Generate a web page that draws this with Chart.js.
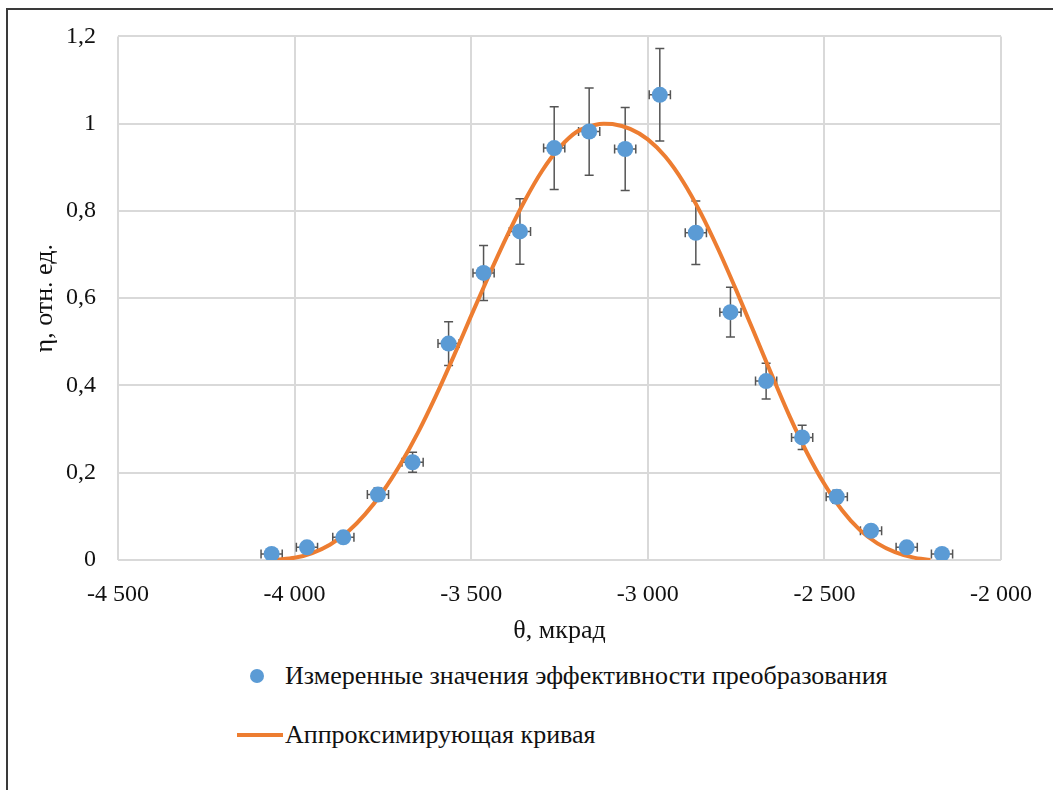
<!DOCTYPE html>
<html>
<head>
<meta charset="utf-8">
<script src="https://cdn.jsdelivr.net/npm/chart.js@4"></script>
<style>
  html, body { margin: 0; padding: 0; background: #fff; }
  body { width: 1053px; height: 790px; position: relative; overflow: hidden; font-family: 'Liberation Serif', 'Times New Roman', serif; }
  #frame { position: absolute; left: 6px; top: 8px; right: 0; bottom: 0; border-left: 2px solid #3a3a3a; border-top: 2px solid #3a3a3a; }
  #chart { position: absolute; left: 0; top: 0; }
  .leg { position: absolute; font-size: 26px; line-height: 30px; color: #111; white-space: nowrap; }
  .leg .dot { position: absolute; width: 14px; height: 14px; border-radius: 50%; }
  .leg .bar { position: absolute; height: 4px; }
</style>
</head>
<body>
<div id="frame"></div>
<canvas id="chart" width="1053" height="660"></canvas>
<div id="legend"></div>
<script>
// measured points, θ in мкрад
const thetaPts = [-4065, -3965, -3862, -3764, -3666, -3564, -3465, -3362, -3265, -3166,
                  -3064, -2966, -2864, -2766, -2665, -2563, -2465, -2368, -2267, -2167];
const etaPts   = [0.014, 0.029, 0.052, 0.150, 0.224, 0.496, 0.658, 0.753, 0.944, 0.982,
                  0.942, 1.066, 0.750, 0.568, 0.410, 0.281, 0.145, 0.067, 0.029, 0.014];
const thetaErr = [30, 30, 30, 30, 30, 30, 30, 30, 30, 30,
                  30, 30, 30, 30, 30, 30, 30, 30, 30, 30];
const etaErr   = [0.002, 0.003, 0.005, 0.015, 0.023, 0.050, 0.063, 0.075, 0.095, 0.100,
                  0.095, 0.106, 0.073, 0.057, 0.041, 0.028, 0.015, 0.007, 0.003, 0.002];

// approximating curve
const fitTheta = [-4065, -4050, -4000, -3950, -3900, -3850, -3800, -3750, -3700, -3650,
                  -3600, -3550, -3500, -3450, -3400, -3350, -3300, -3250, -3200, -3150,
                  -3125, -3100, -3050, -3000, -2950, -2900, -2850, -2800, -2750, -2700,
                  -2650, -2600, -2550, -2500, -2450, -2400, -2350, -2300, -2250, -2200];
const fitEta   = [0.000, 0.001, 0.005, 0.016, 0.035, 0.064, 0.105, 0.157, 0.220, 0.293,
                  0.376, 0.466, 0.560, 0.652, 0.740, 0.821, 0.891, 0.945, 0.982, 0.997,
                  1.000, 0.999, 0.988, 0.964, 0.924, 0.867, 0.795, 0.711, 0.619, 0.523,
                  0.426, 0.332, 0.247, 0.174, 0.114, 0.069, 0.038, 0.018, 0.006, 0.000];

const xTickValues = [-4500, -4000, -3500, -3000, -2500, -2000];
const xTickLabels = ['-4 500', '-4 000', '-3 500', '-3 000', '-2 500', '-2 000'];
const yTickValues = [0, 0.2, 0.4, 0.6, 0.8, 1, 1.2];
const yTickLabels = ['0', '0,2', '0,4', '0,6', '0,8', '1', '1,2'];

const seriesNames = ['Измеренные значения эффективности преобразования', 'Аппроксимирующая кривая'];
const blue = '#5b9bd5';
const orange = '#ed7d31';
const serif = "'Liberation Serif', 'Times New Roman', serif";

const errorBars = {
  id: 'errorBars',
  beforeDatasetsDraw(chart) {
    const { ctx, scales: { x, y } } = chart;
    const cap = 4.5;
    ctx.save();
    ctx.strokeStyle = '#555';
    ctx.lineWidth = 1.5;
    thetaPts.forEach((t, i) => {
      const px = x.getPixelForValue(t);
      const py = y.getPixelForValue(etaPts[i]);
      const yt = y.getPixelForValue(etaPts[i] + etaErr[i]);
      const yb = y.getPixelForValue(etaPts[i] - etaErr[i]);
      const xl = x.getPixelForValue(t - thetaErr[i]);
      const xr = x.getPixelForValue(t + thetaErr[i]);
      ctx.beginPath();
      ctx.moveTo(px, yt); ctx.lineTo(px, yb);
      ctx.moveTo(px - cap, yt); ctx.lineTo(px + cap, yt);
      ctx.moveTo(px - cap, yb); ctx.lineTo(px + cap, yb);
      ctx.moveTo(xl, py); ctx.lineTo(xr, py);
      ctx.moveTo(xl, py - cap); ctx.lineTo(xl, py + cap);
      ctx.moveTo(xr, py - cap); ctx.lineTo(xr, py + cap);
      ctx.stroke();
    });
    ctx.restore();
  }
};

const chart = new Chart(document.getElementById('chart'), {
  type: 'scatter',
  data: {
    datasets: [
      {
        label: seriesNames[0],
        data: thetaPts.map((t, i) => ({ x: t, y: etaPts[i] })),
        backgroundColor: blue,
        borderWidth: 0,
        pointRadius: 8
      },
      {
        label: seriesNames[1],
        data: fitTheta.map((t, i) => ({ x: t, y: fitEta[i] })),
        showLine: true,
        borderColor: orange,
        borderWidth: 4,
        pointRadius: 0,
        cubicInterpolationMode: 'monotone'
      }
    ]
  },
  options: {
    responsive: false,
    animation: false,
    events: [],
    layout: { padding: { left: 0, top: 36, right: 52, bottom: 0 } },
    plugins: { legend: { display: false }, tooltip: { enabled: false } },
    scales: {
      x: {
        type: 'linear',
        min: -4500,
        max: -2000,
        afterBuildTicks: s => { s.ticks = xTickValues.map(v => ({ value: v })); },
        afterFit: s => { s.height = 100; },
        grid: { color: '#d9d9d9', lineWidth: 2, drawTicks: false },
        border: { display: false },
        ticks: {
          padding: 20,
          maxRotation: 0,
          color: '#111',
          font: { family: serif, size: 24 },
          callback: v => xTickLabels[xTickValues.indexOf(v)]
        },
        title: {
          display: true,
          text: 'θ, мкрад',
          color: '#111',
          font: { family: serif, size: 26 },
          padding: { top: 0, bottom: 13 }
        }
      },
      y: {
        min: 0,
        max: 1.2,
        afterBuildTicks: s => { s.ticks = yTickValues.map(v => ({ value: v })); },
        afterFit: s => { s.width = 118; },
        grid: { color: '#d9d9d9', lineWidth: 2, drawTicks: false },
        border: { display: false },
        ticks: {
          padding: 22,
          color: '#111',
          font: { family: serif, size: 24 },
          callback: (v, i) => yTickLabels[i]
        },
        title: {
          display: true,
          text: 'η, отн. ед.',
          color: '#111',
          font: { family: serif, size: 26 },
          padding: { top: 30, bottom: 0 }
        }
      }
    }
  },
  plugins: [errorBars]
});

// legend stacked in a column under the plot
const legend = document.getElementById('legend');
const rows = [676, 735];
chart.data.datasets.forEach((ds, i) => {
  const row = document.createElement('div');
  row.className = 'leg';
  row.style.left = '285px';
  row.style.top = (rows[i] - 15) + 'px';
  row.textContent = ds.label;
  const mark = document.createElement('span');
  if (i === 0) {
    mark.className = 'dot';
    mark.style.background = ds.backgroundColor;
    mark.style.left = '-35px';
    mark.style.top = '8px';
  } else {
    mark.className = 'bar';
    mark.style.background = ds.borderColor;
    mark.style.left = '-48px';
    mark.style.width = '46px';
    mark.style.top = '13px';
  }
  row.appendChild(mark);
  legend.appendChild(row);
});
</script>
</body>
</html>
